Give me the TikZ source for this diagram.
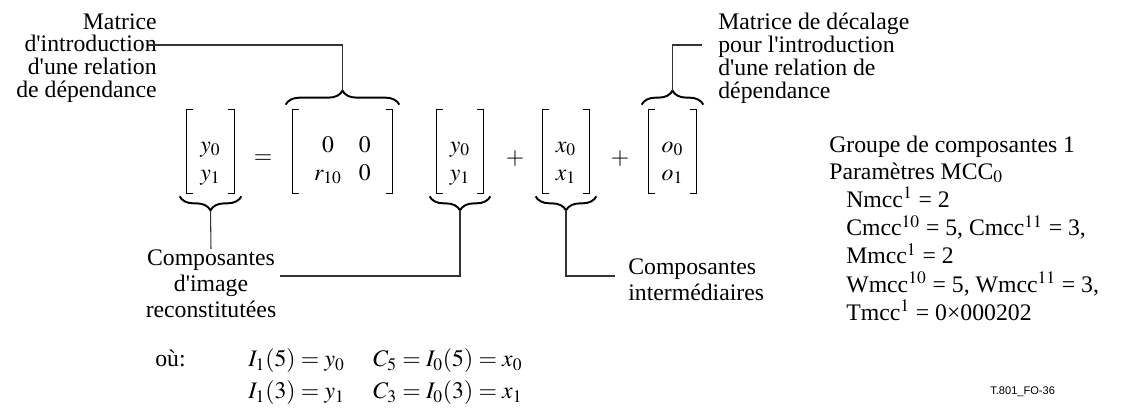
\documentclass[tikz,border=0pt]{standalone}
\usepackage{mathptmx}
\usepackage{fontspec}
\setmainfont{Liberation Serif}
\newfontfamily\codefont{Liberation Sans}
\usetikzlibrary{positioning,calc,decorations.pathreplacing}

\tikzset{
  lbl/.style={inner sep=0pt, font=\rmfamily\fontsize{13.5}{13}\selectfont},
  lbltwo/.style={inner sep=0pt, font=\rmfamily\fontsize{13.5}{15}\selectfont},
  vecbox/.style={minimum height=16.6mm, inner sep=0pt, font=\fontsize{13.5}{16}\selectfont},
  brk/.style={line width=0.55pt},
  bracebox/.style={decorate, decoration={brace, amplitude=2.8mm}, line width=1.1pt},
  lead/.style={line width=0.6pt, draw=black!80}
}
\newcommand{\vecbrackets}[1]{%
  \draw[brk] ([xshift=1.2mm]#1.north west) -- (#1.north west) -- (#1.south west) -- ([xshift=1.2mm]#1.south west);
  \draw[brk] ([xshift=-1.2mm]#1.north east) -- (#1.north east) -- (#1.south east) -- ([xshift=-1.2mm]#1.south east);}
\newcommand{\colvec}[2]{\raisebox{-3mm}[0pt][0pt]{\begin{tabular}{@{}c@{}}$#1$\\$#2$\end{tabular}}}
\newcommand{\q}{\textquotesingle}

\begin{document}
\begin{tikzpicture}[x=0.2mm, y=-0.2mm]
    \useasboundingbox (0,0) rectangle (1125,410);

    % the equation
    \node[vecbox, minimum width=9.4mm] (lhs) at (210.5,151.5) {\colvec{y_0}{y_1}};
    \node[lbltwo] (eq) at (263,159) {$=$};
    \node[vecbox, minimum width=19.8mm] (rel) at (342.5,151.5)
        {\raisebox{-3mm}[0pt][0pt]{\begin{tabular}{@{}c@{\hspace{3.4mm}}c@{}}$0$ & $0$\\ $r_{10}$ & $0$\end{tabular}}};
    \node[vecbox, minimum width=9.2mm] (cur) at (460,151.5) {\colvec{y_0}{y_1}};
    \node[lbltwo] (plusa) at (515,159) {$+$};
    \node[vecbox, minimum width=9.2mm] (mid) at (566,151.5) {\colvec{x_0}{x_1}};
    \node[lbltwo] (plusb) at (620,159) {$+$};
    \node[vecbox, minimum width=9.4mm] (off) at (672.5,151.5) {\colvec{o_0}{o_1}};
    \vecbrackets{lhs}
    \vecbrackets{rel}
    \vecbrackets{cur}
    \vecbrackets{mid}
    \vecbrackets{off}

    % braces
    \draw[bracebox] ($(rel.north west)+(-7,-5)$) -- ($(rel.north east)+(7,-5)$);
    \draw[bracebox] ($(off.north west)+(-7,-5)$) -- ($(off.north east)+(7,-5)$);
    \draw[bracebox] ($(lhs.south east)+(7,3)$) -- ($(lhs.south west)+(-7,3)$);
    \draw[bracebox] ($(cur.south east)+(7,3)$) -- ($(cur.south west)+(-7,3)$);
    \draw[bracebox] ($(mid.south east)+(7,3)$) -- ($(mid.south west)+(-7,3)$);
    \coordinate (relTip) at ($(rel.north)+(0,-19)$);
    \coordinate (offTip) at ($(off.north)+(0,-19)$);
    \coordinate (lhsTip) at ($(lhs.south)+(0,17)$);
    \coordinate (curTip) at ($(cur.south)+(0,17)$);
    \coordinate (midTip) at ($(mid.south)+(0,17)$);

    % labels
    \node[lbl, align=right, anchor=north east] (relLbl) at (157,13)
        {Matrice\\d\q introduction\\d\q une relation\\de dépendance};
    \node[lbl, align=left, anchor=north west] (offLbl) at (718,13)
        {Matrice de décalage\\pour l\q introduction\\d\q une relation de\\dépendance};
    \node[lbltwo, align=center, anchor=north] (lhsLbl) at (211,249)
        {Composantes\\d\q image\\reconstitutées};
    \node[lbltwo, align=left, anchor=north west] (midLbl) at (628,258)
        {Composantes\\intermédiaires};
    \coordinate (relEnd) at (148,45);
    \coordinate (offEnd) at (702,45);
    \coordinate (curEnd) at (280,276);
    \coordinate (midEnd) at (615,276);

    \draw[lead] (relEnd) -| (relTip);
    \draw[lead] (offEnd) -| (offTip);
    \draw[lead] (lhsTip) -- (lhsLbl.north);
    \draw[lead] (curTip) |- (curEnd);
    \draw[lead] (midTip) |- (midEnd);

    % where
    \node[lbltwo, anchor=north west] (whereLbl) at (155,348)
        {\begin{tabular}{@{}p{18.6mm}@{}p{25mm}@{}l@{}}
         où: & $I_1(5) = y_0$ & $C_5 = I_0(5) = x_0$\\[3pt]
             & $I_1(3) = y_1$ & $C_3 = I_0(3) = x_1$
         \end{tabular}};

    % parameters
    \node[lbltwo, anchor=north west] (paramLbl) at (829,134)
        {\begin{tabular}{@{}p{3.4mm}@{}l@{}}
         \multicolumn{2}{@{}l@{}}{Groupe de composantes 1}\\
         \multicolumn{2}{@{}l@{}}{Paramètres MCC$_0$}\\
         & Nmcc$^1$ = 2\\
         & Cmcc$^{10}$ = 5, Cmcc$^{11}$ = 3,\\
         & Mmcc$^1$ = 2\\
         & Wmcc$^{10}$ = 5, Wmcc$^{11}$ = 3,\\
         & Tmcc$^1$ = 0×000202
         \end{tabular}};

    \node[anchor=west, inner sep=0pt, font=\codefont\fontsize{6.3}{7}\selectfont] (figId) at (990,392) {T.801\_FO-36};
\end{tikzpicture}
\end{document}
